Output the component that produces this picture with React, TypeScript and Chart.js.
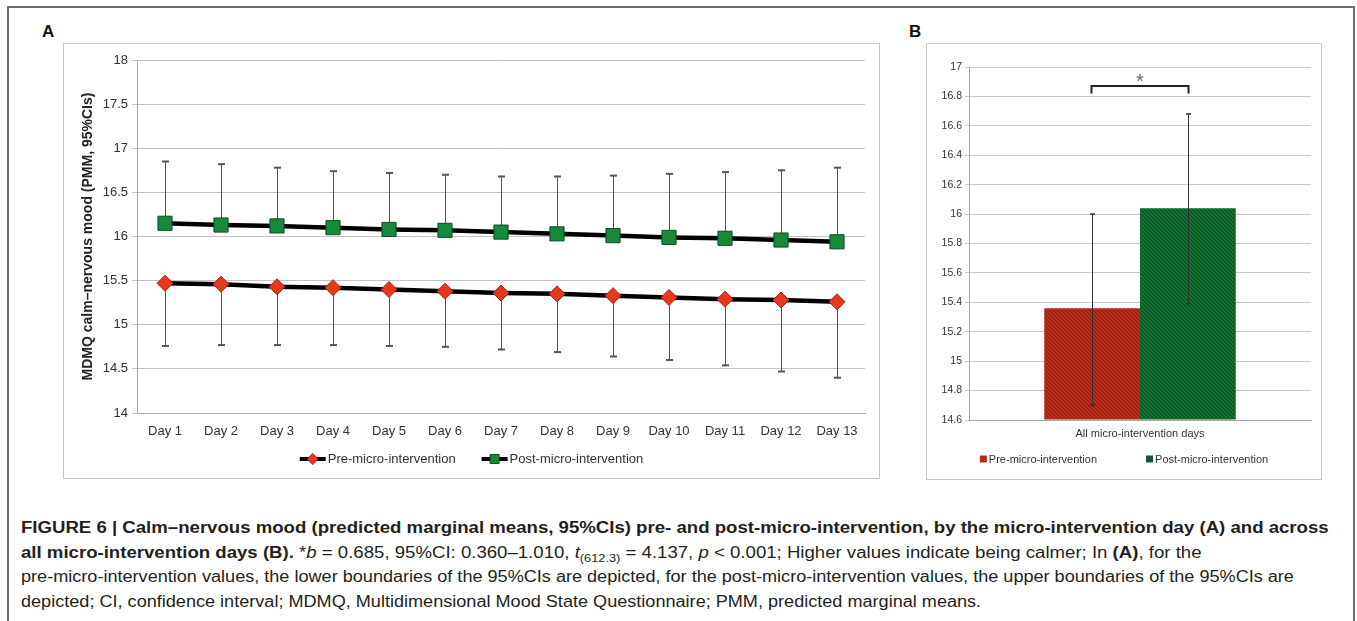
import React, { useEffect, useLayoutEffect, useRef } from "react";
import { Chart, registerables } from "chart.js";

Chart.register(...registerables);

const FONT = "'Liberation Sans', Arial, Helvetica, sans-serif";

// ---- Panel A data ----
const days = ["Day 1", "Day 2", "Day 3", "Day 4", "Day 5", "Day 6", "Day 7", "Day 8", "Day 9", "Day 10", "Day 11", "Day 12", "Day 13"];
const preMean = [15.47, 15.46, 15.43, 15.42, 15.4, 15.38, 15.36, 15.35, 15.33, 15.31, 15.29, 15.28, 15.26];
const preLowerCI = [14.76, 14.77, 14.77, 14.77, 14.76, 14.75, 14.72, 14.69, 14.64, 14.6, 14.54, 14.47, 14.4];
const postMean = [16.15, 16.13, 16.12, 16.1, 16.08, 16.07, 16.05, 16.03, 16.01, 15.99, 15.98, 15.96, 15.94];
const postUpperCI = [16.85, 16.82, 16.78, 16.74, 16.72, 16.7, 16.68, 16.68, 16.69, 16.71, 16.73, 16.75, 16.78];
const yMinA = 14;
const yMaxA = 18;
const yStepA = 0.5;

// ---- Panel B data ----
const groupLabels = ["All micro-intervention days"];
const preOverall = [15.36];
const preOverallCI = [14.7, 16.0];
const postOverall = [16.04];
const postOverallCI = [15.39, 16.68];
const yMinB = 14.6;
const yMaxB = 17;
const yStepB = 0.2;

const seriesNames = ["Pre-micro-intervention", "Post-micro-intervention"];

const RED_FILL = "#e5391f";
const RED_EDGE = "#a3250f";
const GREEN_FILL = "#168a3a";
const GREEN_EDGE = "#0b4f1f";

function makePattern(base: string, stripe: string) {
  const c = document.createElement("canvas");
  c.width = 4;
  c.height = 4;
  const g = c.getContext("2d")!;
  g.fillStyle = base;
  g.fillRect(0, 0, 4, 4);
  g.strokeStyle = stripe;
  g.lineWidth = 1.2;
  g.beginPath();
  g.moveTo(-1, -1);
  g.lineTo(5, 5);
  g.moveTo(-1, 3);
  g.lineTo(1, 5);
  g.moveTo(3, -1);
  g.lineTo(5, 1);
  g.stroke();
  return g.createPattern(c, "repeat")!;
}

const errorBarsA = {
  id: "errorBarsA",
  beforeDatasetsDraw(chart: any) {
    const { ctx } = chart;
    const x = chart.scales.x;
    const y = chart.scales.y;
    ctx.save();
    ctx.strokeStyle = "#555";
    const draw = (means: number[], ends: number[]) => {
      means.forEach((m, i) => {
        const px = Math.round(x.getPixelForValue(i)) + 0.5;
        const y0 = y.getPixelForValue(m);
        const y1 = y.getPixelForValue(ends[i]);
        ctx.lineWidth = 1;
        ctx.beginPath();
        ctx.moveTo(px, y0);
        ctx.lineTo(px, y1);
        ctx.stroke();
        ctx.lineWidth = 2;
        ctx.beginPath();
        ctx.moveTo(px - 3.5, y1);
        ctx.lineTo(px + 3.5, y1);
        ctx.stroke();
      });
    };
    draw(preMean, preLowerCI);
    draw(postMean, postUpperCI);
    ctx.restore();
  },
};

const legendA = {
  id: "legendA",
  afterDraw(chart: any) {
    const { ctx } = chart;
    const yc = chart.chartArea.bottom + 46;
    ctx.save();
    ctx.font = `13px ${FONT}`;
    const ds = chart.data.datasets;
    const markerW = 26;
    const gap = 2;
    const between = 26;
    const widths = ds.map((d: any) => ctx.measureText(d.label).width);
    const total = widths.reduce((a: number, w: number) => a + markerW + gap + w, 0) + between * (ds.length - 1);
    let x = chart.width / 2 - total / 2;
    ds.forEach((d: any, i: number) => {
      ctx.strokeStyle = "#000";
      ctx.lineWidth = 4;
      ctx.beginPath();
      ctx.moveTo(x, yc);
      ctx.lineTo(x + markerW, yc);
      ctx.stroke();
      const cx = x + markerW / 2;
      ctx.fillStyle = d.pointBackgroundColor;
      ctx.strokeStyle = d.pointBorderColor;
      ctx.lineWidth = 1;
      ctx.beginPath();
      if (d.pointStyle === "rectRot") {
        const r = 5.5;
        ctx.moveTo(cx - r, yc);
        ctx.lineTo(cx, yc - r);
        ctx.lineTo(cx + r, yc);
        ctx.lineTo(cx, yc + r);
        ctx.closePath();
      } else {
        ctx.rect(cx - 4.5, yc - 4.5, 9, 9);
      }
      ctx.fill();
      ctx.stroke();
      ctx.fillStyle = "#333";
      ctx.textBaseline = "middle";
      ctx.textAlign = "left";
      ctx.fillText(d.label, x + markerW + gap, yc + 0.5);
      x += markerW + gap + widths[i] + between;
    });
    ctx.restore();
  },
};

const errorBarsB = {
  id: "errorBarsB",
  afterDatasetsDraw(chart: any) {
    const { ctx } = chart;
    const y = chart.scales.y;
    const cis = [preOverallCI, postOverallCI];
    ctx.save();
    ctx.strokeStyle = "#333";
    chart.data.datasets.forEach((_d: any, di: number) => {
      const bar = chart.getDatasetMeta(di).data[0];
      const px = Math.round(bar.x) + 0.5;
      const lo = y.getPixelForValue(cis[di][0]);
      const hi = y.getPixelForValue(cis[di][1]);
      ctx.lineWidth = 1;
      ctx.beginPath();
      ctx.moveTo(px, lo);
      ctx.lineTo(px, hi);
      ctx.stroke();
      ctx.lineWidth = 1.5;
      ctx.beginPath();
      ctx.moveTo(px - 2.5, lo);
      ctx.lineTo(px + 2.5, lo);
      ctx.moveTo(px - 2.5, hi);
      ctx.lineTo(px + 2.5, hi);
      ctx.stroke();
    });
    // significance bracket
    const b0 = chart.getDatasetMeta(0).data[0];
    const b1 = chart.getDatasetMeta(1).data[0];
    const x0 = Math.round(b0.x) - 0.5;
    const x1 = Math.round(b1.x) + 0.5;
    const top = y.getPixelForValue(16.87);
    const leg = y.getPixelForValue(16.82);
    ctx.strokeStyle = "#222";
    ctx.lineWidth = 2;
    ctx.beginPath();
    ctx.moveTo(x0, leg);
    ctx.lineTo(x0, top);
    ctx.lineTo(x1, top);
    ctx.lineTo(x1, leg);
    ctx.stroke();
    ctx.fillStyle = "#666";
    ctx.font = `20px ${FONT}`;
    ctx.textAlign = "center";
    ctx.textBaseline = "alphabetic";
    ctx.fillText("*", (x0 + x1) / 2, y.getPixelForValue(16.93) + 11);
    ctx.restore();
  },
};

const legendB = {
  id: "legendB",
  afterDraw(chart: any) {
    const { ctx } = chart;
    const yc = chart.chartArea.bottom + 39;
    ctx.save();
    ctx.font = `11px ${FONT}`;
    const ds = chart.data.datasets;
    const box = 7;
    const gap = 2;
    const between = 49;
    const widths = ds.map((d: any) => ctx.measureText(d.label).width);
    const total = widths.reduce((a: number, w: number) => a + box + gap + w, 0) + between * (ds.length - 1);
    let x = chart.width / 2 - total / 2;
    ds.forEach((d: any, i: number) => {
      ctx.fillStyle = d.legendColor;
      ctx.fillRect(x, yc - box / 2, box, box);
      ctx.fillStyle = "#333";
      ctx.textBaseline = "middle";
      ctx.textAlign = "left";
      ctx.fillText(d.label, x + box + gap, yc + 0.5);
      x += box + gap + widths[i] + between;
    });
    ctx.restore();
  },
};

const fmt = (v: any) => String(Math.round(Number(v) * 10) / 10);

// target widths of caption lines (null = use the scale of the previous line)
const captionWidths: (number | null)[] = [1308, 1180, 1273, null];

export default function App() {
  const aRef = useRef<HTMLCanvasElement>(null);
  const bRef = useRef<HTMLCanvasElement>(null);
  const capRefs = useRef<(HTMLSpanElement | null)[]>([]);

  useLayoutEffect(() => {
    let last = 1;
    capRefs.current.forEach((el, i) => {
      if (!el) return;
      const target = captionWidths[i];
      const s = target ? target / el.offsetWidth : last;
      last = s;
      el.style.transform = `scaleX(${s})`;
    });
  }, []);

  useEffect(() => {
    const chartA = new Chart(aRef.current!, {
      type: "line",
      data: {
        labels: days,
        datasets: [
          {
            label: seriesNames[0],
            data: preMean,
            borderColor: "#000",
            borderWidth: 4.5,
            pointStyle: "rectRot",
            pointRadius: 8,
            pointBackgroundColor: RED_FILL,
            pointBorderColor: RED_EDGE,
            pointBorderWidth: 1,
            tension: 0,
          } as any,
          {
            label: seriesNames[1],
            data: postMean,
            borderColor: "#000",
            borderWidth: 4.5,
            pointStyle: "rect",
            pointRadius: 10,
            pointBackgroundColor: GREEN_FILL,
            pointBorderColor: GREEN_EDGE,
            pointBorderWidth: 1,
            tension: 0,
          } as any,
        ],
      },
      options: {
        animation: false,
        responsive: false,
        layout: { padding: { left: 17, top: 17, right: 15, bottom: 0 } },
        plugins: { legend: { display: false }, tooltip: { enabled: false } },
        scales: {
          x: {
            type: "category",
            offset: true,
            grid: { display: false, drawTicks: false },
            border: { display: true, color: "#a8a8a8" },
            ticks: { font: { family: FONT, size: 13 }, color: "#333", padding: 11, maxRotation: 0, autoSkip: false },
            afterFit: (s: any) => {
              s.height = 66;
            },
          },
          y: {
            min: yMinA,
            max: yMaxA,
            ticks: { stepSize: yStepA, callback: fmt, font: { family: FONT, size: 13 }, color: "#333", padding: 4 },
            grid: { color: "#c4c4c4", tickLength: 5 },
            border: { display: true, color: "#a8a8a8" },
            title: {
              display: true,
              text: "MDMQ calm\u2013nervous mood (PMM, 95%CIs)",
              font: { family: FONT, size: 14, weight: "bold" },
              color: "#222",
              padding: 0,
            },
            afterFit: (s: any) => {
              s.width = 57;
            },
          },
        },
      } as any,
      plugins: [errorBarsA, legendA],
    });

    const redPat = makePattern("#c4301f", "#8e1b10");
    const greenPat = makePattern("#127a35", "#0a4c1f");

    const chartB = new Chart(bRef.current!, {
      type: "bar",
      data: {
        labels: groupLabels,
        datasets: [
          { label: seriesNames[0], data: preOverall, backgroundColor: redPat, base: yMinB, legendColor: "#b8271c" } as any,
          { label: seriesNames[1], data: postOverall, backgroundColor: greenPat, base: yMinB, legendColor: "#1b5234" } as any,
        ],
      },
      options: {
        animation: false,
        responsive: false,
        datasets: { bar: { barPercentage: 1, categoryPercentage: 0.56 } },
        layout: { padding: { left: 0, top: 24, right: 11, bottom: 0 } },
        plugins: { legend: { display: false }, tooltip: { enabled: false } },
        scales: {
          x: {
            grid: { display: false, drawTicks: false },
            border: { display: true, color: "#a8a8a8" },
            ticks: { font: { family: FONT, size: 11 }, color: "#333", padding: 7 },
            afterFit: (s: any) => {
              s.height = 60;
            },
          },
          y: {
            min: yMinB,
            max: yMaxB,
            ticks: { stepSize: yStepB, callback: fmt, font: { family: FONT, size: 10.5 }, color: "#333", padding: 3 },
            grid: { color: "#c8c8c8", tickLength: 4 },
            border: { display: true, color: "#a8a8a8" },
            afterFit: (s: any) => {
              s.width = 43;
            },
          },
        },
      } as any,
      plugins: [errorBarsB, legendB],
    });

    return () => {
      chartA.destroy();
      chartB.destroy();
    };
  }, []);

  const frame = (l: number, t: number, w: number, h: number): React.CSSProperties => ({
    position: "absolute",
    left: l,
    top: t,
    width: w,
    height: h,
    border: "1px solid #c8c8c8",
    boxSizing: "border-box",
    pointerEvents: "none",
  });

  const capLine = (top: number): React.CSSProperties => ({
    position: "absolute",
    left: 21,
    top,
    whiteSpace: "nowrap",
    fontFamily: FONT,
    fontSize: 16,
    lineHeight: "24px",
    color: "#231f20",
  });

  const spanStyle: React.CSSProperties = { display: "inline-block", transformOrigin: "left center" };

  return (
    <div style={{ position: "absolute", left: 0, top: 0, width: 1357, height: 621, overflow: "hidden", background: "#fff" }}>
      <div style={{ position: "absolute", left: 7, top: 6, width: 1348, height: 700, border: "2px solid #6e6e6e", boxSizing: "border-box" }} />
      <div style={{ position: "absolute", left: 42, top: 23, fontFamily: FONT, fontWeight: "bold", fontSize: 17, lineHeight: "17px", color: "#111" }}>A</div>
      <div style={{ position: "absolute", left: 909, top: 23, fontFamily: FONT, fontWeight: "bold", fontSize: 17, lineHeight: "17px", color: "#111" }}>B</div>
      <canvas ref={aRef} width={817} height={436} style={{ position: "absolute", left: 63, top: 43 }} />
      <canvas ref={bRef} width={396} height={437} style={{ position: "absolute", left: 926, top: 43 }} />
      <div style={frame(63, 43, 817, 436)} />
      <div style={frame(926, 43, 396, 437)} />

      <div style={capLine(516)}>
        <span ref={(el) => { capRefs.current[0] = el; }} style={{ ...spanStyle, fontWeight: "bold" }}>
          FIGURE 6 | Calm–nervous mood (predicted marginal means, 95%CIs) pre- and post-micro-intervention, by the micro-intervention day (A) and across
        </span>
      </div>
      <div style={capLine(540.5)}>
        <span ref={(el) => { capRefs.current[1] = el; }} style={spanStyle}>
          <b>all micro-intervention days (B).</b> *<i>b</i> = 0.685, 95%CI: 0.360–1.010, <i>t</i>
          <span style={{ fontSize: 11, position: "relative", top: 4 }}>(612.3)</span> = 4.137, <i>p</i> &lt; 0.001; Higher values indicate being calmer; In <b>(A)</b>, for the
        </span>
      </div>
      <div style={capLine(565)}>
        <span ref={(el) => { capRefs.current[2] = el; }} style={spanStyle}>
          pre-micro-intervention values, the lower boundaries of the 95%CIs are depicted, for the post-micro-intervention values, the upper boundaries of the 95%CIs are
        </span>
      </div>
      <div style={capLine(589.5)}>
        <span ref={(el) => { capRefs.current[3] = el; }} style={spanStyle}>
          depicted; CI, confidence interval; MDMQ, Multidimensional Mood State Questionnaire; PMM, predicted marginal means.
        </span>
      </div>
    </div>
  );
}
